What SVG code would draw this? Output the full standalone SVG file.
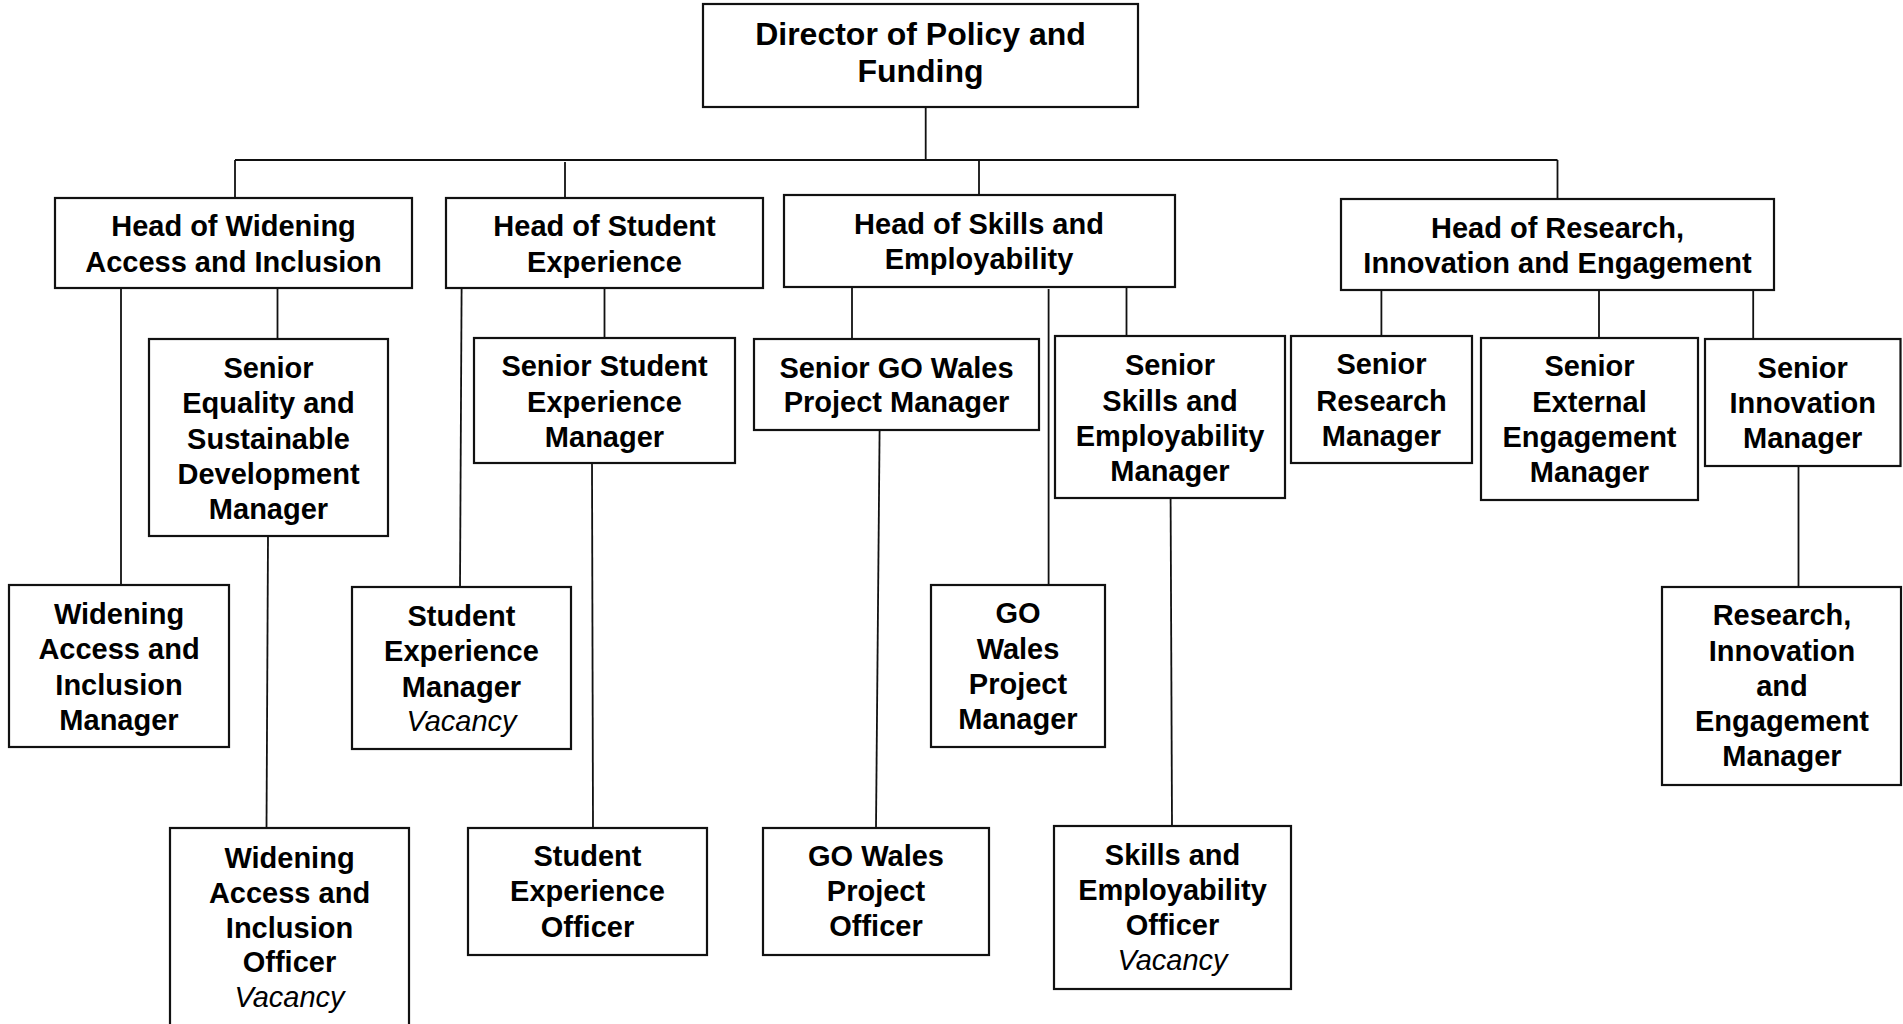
<svg xmlns="http://www.w3.org/2000/svg" width="1903" height="1024" viewBox="0 0 1903 1024">
<style>
.box{fill:#fff;stroke:#111;stroke-width:2.2}
.ln{stroke:#111;stroke-width:1.8;fill:none}
text{font-family:"Liberation Sans",Arial,sans-serif;font-weight:bold;font-size:29px;fill:#000;text-anchor:middle}
.big{font-size:32px}
.it{font-style:italic;font-weight:normal}
</style>
<rect width="1903" height="1024" fill="#fff"/>
<g id="connectors">
<line class="ln" x1="925.7" y1="107" x2="925.7" y2="160"/>
<line class="ln" x1="235" y1="160" x2="1557.5" y2="160"/>
<line class="ln" x1="235" y1="160" x2="235" y2="198"/>
<line class="ln" x1="565" y1="162" x2="565" y2="198"/>
<line class="ln" x1="979" y1="160" x2="979" y2="195"/>
<line class="ln" x1="1557.5" y1="160" x2="1557.5" y2="199"/>
<line class="ln" x1="121" y1="288" x2="121" y2="585"/>
<line class="ln" x1="277.5" y1="288" x2="277.5" y2="339"/>
<line class="ln" x1="268" y1="536" x2="266.5" y2="828"/>
<line class="ln" x1="461.6" y1="288" x2="460" y2="587"/>
<line class="ln" x1="604.5" y1="288" x2="604.5" y2="338"/>
<line class="ln" x1="592" y1="463" x2="593" y2="828"/>
<line class="ln" x1="852" y1="287" x2="852" y2="339"/>
<line class="ln" x1="1048.6" y1="289" x2="1048.6" y2="585"/>
<line class="ln" x1="1126.5" y1="287" x2="1126.5" y2="336"/>
<line class="ln" x1="879.6" y1="430" x2="876" y2="828"/>
<line class="ln" x1="1170.6" y1="498" x2="1172" y2="826"/>
<line class="ln" x1="1381.4" y1="290" x2="1381.4" y2="336"/>
<line class="ln" x1="1599" y1="290" x2="1599" y2="338"/>
<line class="ln" x1="1753.2" y1="290" x2="1753.2" y2="339"/>
<line class="ln" x1="1798.5" y1="466" x2="1798.5" y2="587"/>
</g>
<g id="director"><rect class="box" x="703" y="4" width="435" height="103"/>
<text class="big" x="920.5" y="45">Director of Policy and</text><text class="big" x="920.5" y="82">Funding</text></g>
<g id="head-widening"><rect class="box" x="55" y="198" width="357" height="90"/>
<text x="233.5" y="235.7">Head of Widening</text><text x="233.5" y="271.7">Access and Inclusion</text></g>
<g id="head-student"><rect class="box" x="446" y="198" width="317" height="90"/>
<text x="604.5" y="235.7">Head of Student</text><text x="604.5" y="271.7">Experience</text></g>
<g id="head-skills"><rect class="box" x="784" y="195" width="391" height="92"/>
<text x="979" y="234">Head of Skills and</text><text x="979" y="269">Employability</text></g>
<g id="head-research"><rect class="box" x="1341" y="199" width="433" height="91"/>
<text x="1557.5" y="238.3">Head of Research,</text><text x="1557.5" y="273.3">Innovation and Engagement</text></g>
<g id="senior-equality"><rect class="box" x="149" y="339" width="239" height="197"/>
<text x="268.5" y="378">Senior</text><text x="268.5" y="413.3">Equality and</text><text x="268.5" y="448.5">Sustainable</text><text x="268.5" y="483.8">Development</text><text x="268.5" y="519">Manager</text></g>
<g id="senior-student"><rect class="box" x="474" y="338" width="261" height="125"/>
<text x="604.5" y="376">Senior Student</text><text x="604.5" y="411.7">Experience</text><text x="604.5" y="446.7">Manager</text></g>
<g id="senior-gowales"><rect class="box" x="754" y="339" width="285" height="91"/>
<text x="896.5" y="377.7">Senior GO Wales</text><text x="896.5" y="412.3">Project Manager</text></g>
<g id="senior-skills"><rect class="box" x="1055" y="336" width="230" height="162"/>
<text x="1170" y="375">Senior</text><text x="1170" y="410.7">Skills and</text><text x="1170" y="446">Employability</text><text x="1170" y="480.7">Manager</text></g>
<g id="senior-research"><rect class="box" x="1291" y="336" width="181" height="127"/>
<text x="1381.5" y="374.3">Senior</text><text x="1381.5" y="411">Research</text><text x="1381.5" y="445.7">Manager</text></g>
<g id="senior-external"><rect class="box" x="1481" y="338" width="217" height="162"/>
<text x="1589.5" y="376">Senior</text><text x="1589.5" y="412.3">External</text><text x="1589.5" y="446.7">Engagement</text><text x="1589.5" y="481.7">Manager</text></g>
<g id="senior-innovation"><rect class="box" x="1705" y="339" width="195.5" height="127"/>
<text x="1802.7" y="377.7">Senior</text><text x="1802.7" y="413.3">Innovation</text><text x="1802.7" y="448.3">Manager</text></g>
<g id="widening-manager"><rect class="box" x="9" y="585" width="220" height="162"/>
<text x="119" y="624.3">Widening</text><text x="119" y="659.3">Access and</text><text x="119" y="694.7">Inclusion</text><text x="119" y="729.7">Manager</text></g>
<g id="student-manager"><rect class="box" x="352" y="587" width="219" height="162"/>
<text x="461.5" y="625.7">Student</text><text x="461.5" y="661">Experience</text><text x="461.5" y="697">Manager</text><text class="it" x="461.5" y="731.3">Vacancy</text></g>
<g id="gowales-manager"><rect class="box" x="931" y="585" width="174" height="162"/>
<text x="1018" y="623">GO</text><text x="1018" y="658.7">Wales</text><text x="1018" y="693.7">Project</text><text x="1018" y="729.3">Manager</text></g>
<g id="rie-manager"><rect class="box" x="1662" y="587" width="239" height="198"/>
<text x="1782" y="625.3">Research,</text><text x="1782" y="661">Innovation</text><text x="1782" y="696.3">and</text><text x="1782" y="731">Engagement</text><text x="1782" y="766.3">Manager</text></g>
<g id="widening-officer"><rect class="box" x="170" y="828" width="239" height="210"/>
<text x="289.5" y="867.7">Widening</text><text x="289.5" y="902.7">Access and</text><text x="289.5" y="938">Inclusion</text><text x="289.5" y="972">Officer</text><text class="it" x="289.5" y="1007">Vacancy</text></g>
<g id="student-officer"><rect class="box" x="468" y="828" width="239" height="127"/>
<text x="587.5" y="866">Student</text><text x="587.5" y="901.3">Experience</text><text x="587.5" y="937">Officer</text></g>
<g id="gowales-officer"><rect class="box" x="763" y="828" width="226" height="127"/>
<text x="876" y="866">GO Wales</text><text x="876" y="901.3">Project</text><text x="876" y="936.3">Officer</text></g>
<g id="skills-officer"><rect class="box" x="1054" y="826" width="237" height="163"/>
<text x="1172.5" y="865.3">Skills and</text><text x="1172.5" y="900.3">Employability</text><text x="1172.5" y="935.3">Officer</text><text class="it" x="1172.5" y="969.7">Vacancy</text></g>
</svg>
